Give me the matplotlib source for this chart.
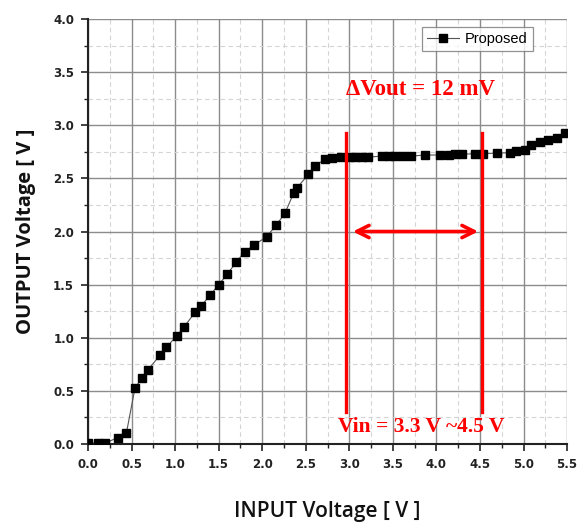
import matplotlib
matplotlib.use("Agg")
import matplotlib.pyplot as plt
from matplotlib.ticker import MultipleLocator, FormatStrFormatter

# Data
vin = [0.00, 0.12, 0.20, 0.34, 0.44, 0.54, 0.62, 0.69, 0.83, 0.90,
       1.02, 1.10, 1.23, 1.30, 1.40, 1.50, 1.60, 1.70, 1.80, 1.90,
       2.05, 2.16, 2.26, 2.36, 2.40, 2.53, 2.61, 2.72, 2.80, 2.91,
       3.00, 3.07, 3.14, 3.22, 3.37, 3.45, 3.52, 3.62, 3.71, 3.87,
       4.04, 4.14, 4.21, 4.29, 4.44, 4.53, 4.69, 4.84, 4.91, 5.02,
       5.09, 5.19, 5.28, 5.38, 5.48]
vout = [0.01, 0.01, 0.01, 0.06, 0.10, 0.53, 0.62, 0.70, 0.84, 0.91,
        1.02, 1.10, 1.24, 1.30, 1.40, 1.50, 1.60, 1.71, 1.81, 1.87,
        1.95, 2.06, 2.17, 2.36, 2.41, 2.54, 2.62, 2.68, 2.69, 2.70,
        2.70, 2.70, 2.70, 2.70, 2.71, 2.71, 2.71, 2.71, 2.71, 2.72,
        2.72, 2.72, 2.73, 2.73, 2.73, 2.73, 2.74, 2.74, 2.76, 2.77,
        2.81, 2.84, 2.86, 2.88, 2.93]

series_label = "Proposed"
range_lines = [2.96, 4.52]
range_line_span = [0.30, 2.93]
arrow_span = [3.04, 4.48]
arrow_y = 2.0
text_dvout = "\u0394Vout = 12 mV"
text_vin = "Vin = 3.3 V ~4.5 V"

fig = plt.figure(figsize=(5.84, 5.28), dpi=100)
ax = fig.add_axes([0.1507, 0.159, 0.8203, 0.805])

ax.plot(vin, vout, color="#555555", lw=0.8, marker="s", ms=6,
        mfc="black", mec="black", label=series_label, zorder=3)

ax.set_xlim(0, 5.5)
ax.set_ylim(0, 4.0)
ax.xaxis.set_major_locator(MultipleLocator(0.5))
ax.xaxis.set_minor_locator(MultipleLocator(0.25))
ax.yaxis.set_major_locator(MultipleLocator(0.5))
ax.yaxis.set_minor_locator(MultipleLocator(0.25))
ax.xaxis.set_major_formatter(FormatStrFormatter("%.1f"))
ax.yaxis.set_major_formatter(FormatStrFormatter("%.1f"))

ax.grid(which="major", color="#8c8c8c", lw=1.0, ls="-", zorder=0)
ax.grid(which="minor", color="#d4d4d4", lw=0.8, ls=(0, (4, 3)), zorder=0)
ax.set_axisbelow(True)

for s in ["top", "right"]:
    ax.spines[s].set_visible(False)
for s in ["left", "bottom"]:
    ax.spines[s].set_linewidth(1.5)
    ax.spines[s].set_color("#222222")

ax.tick_params(which="major", direction="out", length=5, width=1.2,
               colors="#222222", labelsize=8.5, pad=5)
ax.tick_params(which="minor", direction="out", length=3, width=1.0,
               colors="#222222")
for lab in ax.get_xticklabels() + ax.get_yticklabels():
    lab.set_fontweight("bold")
    lab.set_family(["Liberation Sans Narrow", "DejaVu Sans"])

ax.set_xlabel("INPUT Voltage [ V ]", fontsize=15, family="Open Sans",
              fontweight="semibold", labelpad=22, color="#111111")
ax.set_ylabel("OUTPUT Voltage [ V ]", fontsize=14.5, family="Open Sans",
              fontweight="bold", labelpad=12, color="#111111")

# Red range annotation
for xv in range_lines:
    ax.plot([xv, xv], range_line_span, color="#ff0000", lw=2.4, zorder=4)
ax.annotate("", xy=(arrow_span[1], arrow_y), xytext=(arrow_span[0], arrow_y),
            arrowprops=dict(arrowstyle="<->", color="#ff0000", lw=2.6,
                            mutation_scale=22, shrinkA=0, shrinkB=0),
            zorder=4)
ax.text(3.82, 3.34, text_dvout, color="#ff0000", fontsize=16.5,
        fontweight="bold", family="Liberation Serif", ha="center", va="center")
ax.text(3.83, 0.16, text_vin, color="#ff0000", fontsize=15.5,
        fontweight="bold", family="Liberation Serif", ha="center", va="center")

leg = ax.legend(loc="upper right", bbox_to_anchor=(0.944, 0.998),
                prop={"family": "Liberation Sans", "size": 10.5},
                frameon=True, fancybox=False, handlelength=2.2,
                borderpad=0.35, handletextpad=0.4)
leg.get_frame().set_edgecolor("#777777")
leg.get_frame().set_linewidth(0.9)

fig.savefig("out.png", dpi=100)
